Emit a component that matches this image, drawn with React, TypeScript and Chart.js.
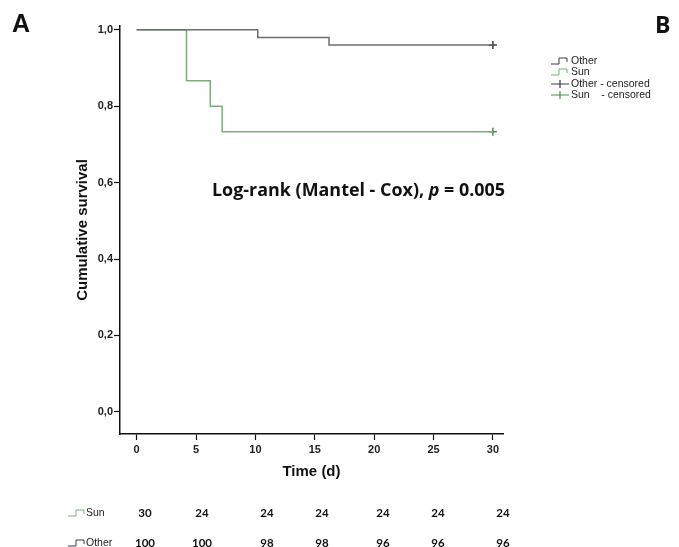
import React, { useEffect, useRef } from "react";
import { Chart, registerables } from "chart.js";

Chart.register(...registerables);

// ---- data ----
const timeTicks = [0, 5, 10, 15, 20, 25, 30];
const survTicks = [0, 0.2, 0.4, 0.6, 0.8, 1.0];
const otherTimes = [0, 10.2, 16.2, 30];
const otherSurv = [1, 0.98, 0.96, 0.96];
const sunTimes = [0, 4.2, 6.2, 7.2, 30];
const sunSurv = [1, 0.867, 0.8, 0.733, 0.733];
const otherCensorTimes = [30];
const otherCensorSurv = [0.96];
const sunCensorTimes = [30];
const sunCensorSurv = [0.733];
const riskGroups = ["Sun", "Other"];
const riskSun = [30, 24, 24, 24, 24, 24, 24];
const riskOther = [100, 100, 98, 98, 96, 96, 96];
const legendLabels = ["Other", "Sun", "Other - censored", "Sun    - censored"];
const testText = "Log-rank (Mantel - Cox), ";
const pText = "p";
const pValueText = " = 0.005";
const panelA = "A";
const panelB = "B";

const OTHER = "#6e6e6e";
const OTHER_MARK = "#3a3a4a";
const SUN = "#7dad7d";
const SUN_MARK = "#4f8f4f";

const toPts = (xs: number[], ys: number[]) => xs.map((x, i) => ({ x, y: ys[i] }));

const stepIcon = (ctx: CanvasRenderingContext2D, x: number, y: number, color: string) => {
  ctx.save();
  ctx.strokeStyle = color;
  ctx.lineWidth = 1;
  ctx.beginPath();
  ctx.moveTo(x, y + 3);
  ctx.lineTo(x + 8, y + 3);
  ctx.lineTo(x + 8, y - 3);
  ctx.lineTo(x + 16, y - 3);
  ctx.lineTo(x + 16, y + 1);
  ctx.stroke();
  ctx.restore();
};

const crossIcon = (ctx: CanvasRenderingContext2D, x: number, y: number, color: string) => {
  ctx.save();
  ctx.strokeStyle = color;
  ctx.lineWidth = 1.2;
  ctx.beginPath();
  ctx.moveTo(x, y);
  ctx.lineTo(x + 18, y);
  ctx.moveTo(x + 9, y - 4);
  ctx.lineTo(x + 9, y + 4);
  ctx.stroke();
  ctx.restore();
};

const decorPlugin = {
  id: "decor",
  afterDraw(chart: any) {
    const ctx: CanvasRenderingContext2D = chart.ctx;
    ctx.save();
    ctx.fillStyle = "#111";
    ctx.textBaseline = "middle";

    // panel letters
    ctx.font = "bold 25px 'Liberation Sans', Arial, sans-serif";
    ctx.textAlign = "left";
    ctx.fillText(panelA, 12, 25);
    ctx.font = "bold 23px 'Open Sans', sans-serif";
    ctx.fillText(panelB, 655, 26);

    // log-rank text (slightly widened like the source image)
    const reg = "bold 17px 'Open Sans', sans-serif";
    const ital = "italic bold 17px 'Open Sans', sans-serif";
    ctx.font = reg;
    const w1 = ctx.measureText(testText).width;
    const w3 = ctx.measureText(pValueText).width;
    ctx.font = ital;
    const w2 = ctx.measureText(pText).width;
    const sx = 293 / (w1 + w2 + w3);
    ctx.save();
    ctx.translate(212, 191);
    ctx.scale(sx, 1);
    ctx.font = reg;
    ctx.fillText(testText, 0, 0);
    ctx.font = ital;
    ctx.fillText(pText, w1, 0);
    ctx.font = reg;
    ctx.fillText(pValueText, w1 + w2, 0);
    ctx.restore();

    // legend
    const legY = [61, 72, 84, 95];
    ctx.font = "10.5px 'Liberation Sans', Arial, sans-serif";
    ctx.fillStyle = "#222";
    stepIcon(ctx, 551, legY[0], OTHER_MARK);
    stepIcon(ctx, 551, legY[1], SUN);
    crossIcon(ctx, 551, legY[2], OTHER_MARK);
    crossIcon(ctx, 551, legY[3], SUN_MARK);
    legendLabels.forEach((t, i) => ctx.fillText(t, 571, legY[i]));

    // numbers at risk
    const cols = [145, 202, 267, 322, 383, 438, 503];
    const rowY = [513, 543];
    const rows = [riskSun, riskOther];
    const iconColors = [SUN, OTHER_MARK];
    rows.forEach((vals, r) => {
      stepIcon(ctx, 68, rowY[r], iconColors[r]);
      ctx.font = "10.5px 'Liberation Sans', Arial, sans-serif";
      ctx.textAlign = "left";
      ctx.fillStyle = "#222";
      ctx.fillText(riskGroups[r], 86, rowY[r]);
      ctx.font = "bold 11.5px Lato, sans-serif";
      ctx.textAlign = "center";
      ctx.fillStyle = "#111";
      vals.forEach((v, i) => ctx.fillText(String(v), cols[i], rowY[r]));
    });
    ctx.restore();
  },
};

export default function App() {
  const ref = useRef<HTMLCanvasElement>(null);
  useEffect(() => {
    if (!ref.current) return;
    const chart = new Chart(ref.current, {
      type: "line",
      data: {
        datasets: [
          {
            label: "Other",
            data: toPts(otherTimes, otherSurv),
            stepped: true,
            borderColor: OTHER,
            borderWidth: 1.5,
            pointRadius: 0,
            fill: false,
          },
          {
            label: "Sun",
            data: toPts(sunTimes, sunSurv),
            stepped: true,
            borderColor: SUN,
            borderWidth: 1.5,
            pointRadius: 0,
            fill: false,
          },
          {
            label: "Other - censored",
            data: toPts(otherCensorTimes, otherCensorSurv),
            showLine: false,
            pointStyle: "cross",
            pointRadius: 4,
            pointBorderWidth: 1.5,
            borderColor: OTHER_MARK,
            backgroundColor: OTHER_MARK,
          },
          {
            label: "Sun - censored",
            data: toPts(sunCensorTimes, sunCensorSurv),
            showLine: false,
            pointStyle: "cross",
            pointRadius: 4,
            pointBorderWidth: 1.5,
            borderColor: SUN_MARK,
            backgroundColor: SUN_MARK,
          },
        ],
      },
      options: {
        responsive: false,
        animation: false,
        layout: { padding: { left: 70, top: 26, right: 176, bottom: 65 } },
        plugins: { legend: { display: false }, tooltip: { enabled: false } },
        scales: {
          x: {
            type: "linear",
            position: "bottom",
            min: -1.4,
            max: 30.85,
            afterBuildTicks: (s: any) => {
              s.ticks = timeTicks.map((v) => ({ value: v }));
            },
            afterFit: (s: any) => {
              s.height = 48;
            },
            border: { display: true, color: "#111", width: 1.5 },
            grid: { drawOnChartArea: false, drawTicks: true, tickLength: 6, tickColor: "#111", tickWidth: 1.2 },
            ticks: {
              padding: 3,
              color: "#222",
              font: { family: "'Liberation Sans', Arial, sans-serif", size: 11, weight: "bold" },
              callback: (v: any) => String(v),
            },
            title: {
              display: true,
              text: "Time (d)",
              color: "#111",
              font: { family: "'Liberation Sans', Arial, sans-serif", size: 15, weight: "bold" },
              padding: { top: 0, bottom: 1 },
            },
          },
          y: {
            type: "linear",
            min: -0.058,
            max: 1.01,
            afterBuildTicks: (s: any) => {
              s.ticks = survTicks.map((v) => ({ value: v }));
            },
            afterFit: (s: any) => {
              s.width = 50;
            },
            border: { display: true, color: "#111", width: 1.5 },
            grid: { drawOnChartArea: false, drawTicks: true, tickLength: 6, tickColor: "#111", tickWidth: 1.2 },
            ticks: {
              padding: 1,
              color: "#222",
              font: { family: "'Liberation Sans', Arial, sans-serif", size: 11, weight: "bold" },
              callback: (v: any) => Number(v).toFixed(1).replace(".", ","),
            },
            title: {
              display: true,
              text: "Cumulative survival",
              color: "#111",
              font: { family: "'Liberation Sans', Arial, sans-serif", size: 15, weight: "bold" },
              padding: { top: 4, bottom: 0 },
            },
          },
        },
      },
      plugins: [decorPlugin],
    } as any);
    return () => chart.destroy();
  }, []);
  return (
    <div style={{ position: "absolute", left: 0, top: 0, width: 679, height: 547, background: "#fff" }}>
      <canvas ref={ref} width={679} height={547} style={{ display: "block" }} />
    </div>
  );
}
